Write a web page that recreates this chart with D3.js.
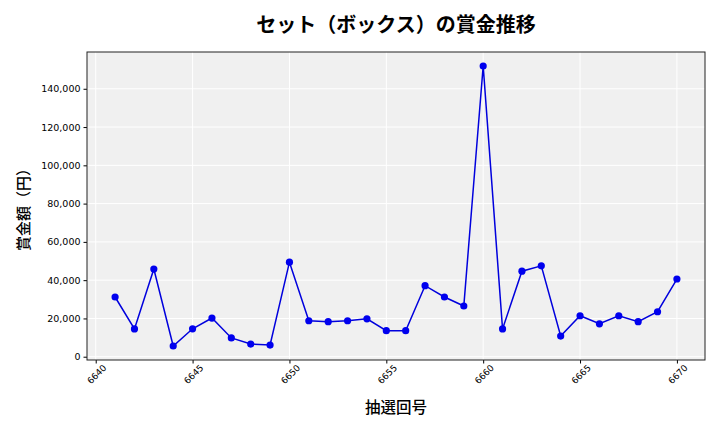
<!DOCTYPE html>
<html><head><meta charset="utf-8">
<script src="https://cdn.jsdelivr.net/npm/d3@7"></script>
<style>body{margin:0;background:#fff;}svg{display:block;}</style>
</head><body>
<svg id="chart" width="720" height="432"></svg>
<script>
const draws = [6641,6642,6643,6644,6645,6646,6647,6648,6649,6650,6651,6652,6653,6654,6655,6656,6657,6658,6659,6660,6661,6662,6663,6664,6665,6666,6667,6668,6669,6670];
const prizes = [31200,14500,45800,5600,14600,20200,9800,6600,6100,49400,18800,18300,18800,19800,13600,13600,37100,31200,26500,151900,14500,44700,47500,10800,21400,17200,21400,18300,23500,40600];
const yTicks = [0,20000,40000,60000,80000,100000,120000,140000];
const xTicks = [6640,6645,6650,6655,6660,6665,6670];
const title = "セット（ボックス）の賞金推移";
const xLabel = "抽選回号";
const yLabel = "賞金額（円）";

const svg = d3.select("#chart");
const m = {l:87, r:705, t:52, b:360};
const xPad = (d3.max(draws)-d3.min(draws))*0.05;
const x = d3.scaleLinear().domain([d3.min(draws)-xPad, d3.max(draws)+xPad]).range([m.l, m.r]);
const yPad = (d3.max(prizes)-d3.min(prizes))*0.05;
const y = d3.scaleLinear().domain([d3.min(prizes)-yPad, d3.max(prizes)+yPad]).range([m.b, m.t]);

svg.append("rect").attr("x",m.l).attr("y",m.t).attr("width",m.r-m.l).attr("height",m.b-m.t).attr("fill","#f0f0f0");
// grid
svg.append("g").selectAll("line").data(yTicks).join("line")
  .attr("x1",m.l).attr("x2",m.r).attr("y1",d=>y(d)).attr("y2",d=>y(d))
  .attr("stroke","#fff").attr("stroke-width",1);
svg.append("g").selectAll("line").data(xTicks).join("line")
  .attr("y1",m.t).attr("y2",m.b).attr("x1",d=>x(d)).attr("x2",d=>x(d))
  .attr("stroke","#fff").attr("stroke-width",1);

const font = "'DejaVu Sans', sans-serif";
const xAxis = svg.append("g").attr("transform",`translate(0,${m.b})`)
  .call(d3.axisBottom(x).tickValues(xTicks).tickFormat(d3.format("d")).tickSize(3.5).tickPadding(2));
xAxis.select(".domain").remove();
xAxis.selectAll("text").attr("font-family",font).attr("font-size",9).attr("fill","#000")
  .attr("text-anchor","end").attr("dx","0.2em").attr("dy","0.9em").attr("transform","rotate(-45)");
const yAxis = svg.append("g").attr("transform",`translate(${m.l},0)`)
  .call(d3.axisLeft(y).tickValues(yTicks).tickFormat(d3.format(",")).tickSize(3.5).tickPadding(3));
yAxis.select(".domain").remove();
yAxis.selectAll("text").attr("font-family",font).attr("font-size",9.5).attr("fill","#000");
svg.selectAll(".tick line").attr("stroke","#000");

svg.append("rect").attr("x",m.l).attr("y",m.t).attr("width",m.r-m.l).attr("height",m.b-m.t)
  .attr("fill","none").attr("stroke","#222").attr("stroke-width",1);

const line = d3.line().x((d,i)=>x(draws[i])).y(d=>y(d));
svg.append("path").datum(prizes).attr("d",line).attr("fill","none").attr("stroke","#0000dd").attr("stroke-width",1.5);
svg.append("g").selectAll("circle").data(prizes).join("circle")
  .attr("cx",(d,i)=>x(draws[i])).attr("cy",d=>y(d)).attr("r",3.6).attr("fill","#0000ee");

const jp = "'Noto Sans CJK JP', sans-serif";
svg.append("text").attr("x",(m.l+m.r)/2).attr("y",32).attr("text-anchor","middle")
  .attr("font-family",jp).attr("font-size",20).attr("font-weight","bold").text(title);
svg.append("text").attr("x",(m.l+m.r)/2).attr("y",413).attr("text-anchor","middle")
  .attr("font-family",jp).attr("font-size",15.5).attr("font-weight","500").text(xLabel);
svg.append("text").attr("transform",`translate(29,${(m.t+m.b)/2}) rotate(-90)`).attr("text-anchor","middle")
  .attr("font-family",jp).attr("font-size",15).attr("font-weight","500").text(yLabel);
</script>
</body></html>
